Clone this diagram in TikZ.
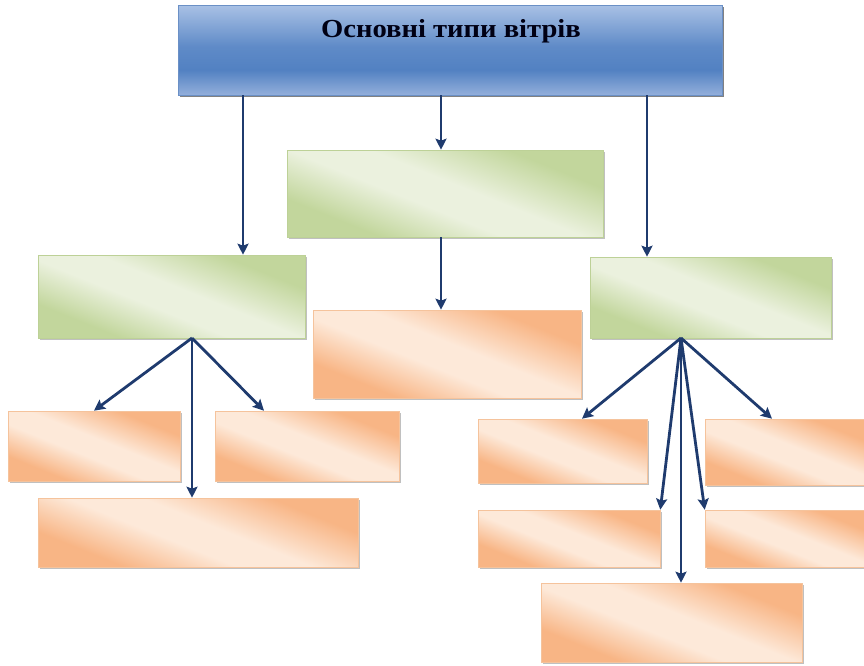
\documentclass[tikz,border=0pt]{standalone}
\usepackage{fontspec}
\setmainfont{Liberation Serif}
\usetikzlibrary{shadows,arrows.meta,calc}

\definecolor{arrowblue}{HTML}{1F3B6E}
\definecolor{ordark}{HTML}{F8B585}
\definecolor{orlight}{HTML}{FDE9D9}
\definecolor{orline}{HTML}{F5C39C}
\definecolor{grdark}{HTML}{C2D69C}
\definecolor{grlight}{HTML}{EBF1DE}
\definecolor{grline}{HTML}{BDD197}
\definecolor{tbtop}{HTML}{A9C1E5}
\definecolor{tbmid}{HTML}{5281C2}
\definecolor{tbbot}{HTML}{93AFDB}
\definecolor{tbline}{HTML}{6B90C6}

% title bar: light at the top, deepest a little below the middle, lighter again at the bottom
\pgfdeclareverticalshading{titleshade}{100bp}{%
  color(0bp)=(tbbot); color(25bp)=(tbbot); color(39bp)=(tbmid);
  color(52bp)=(tbmid!85!tbtop); color(75bp)=(tbtop); color(100bp)=(tbtop)}

% soft diagonal sheen: dark edges, light band through the middle
\pgfdeclareverticalshading{orsheen}{100bp}{%
  color(0bp)=(ordark); color(29bp)=(ordark); color(44bp)=(orlight);
  color(54bp)=(orlight); color(71bp)=(ordark); color(100bp)=(ordark)}
\pgfdeclareverticalshading{grsheen}{100bp}{%
  color(0bp)=(grdark); color(29bp)=(grdark); color(44bp)=(grlight);
  color(54bp)=(grlight); color(71bp)=(grdark); color(100bp)=(grdark)}

\tikzset{
  boxbase/.style={rectangle, inner sep=0pt, line width=0.6pt,
    drop shadow={shadow xshift=1.6pt, shadow yshift=-2.2pt, opacity=0.45, fill=black!55}},
  orangebox/.style={boxbase, draw=orline, shading=orsheen, shading angle=-22},
  greenbox/.style={boxbase, draw=grline, shading=grsheen, shading angle=-22},
  titlebox/.style={rectangle, inner sep=0pt, line width=0.6pt, draw=tbline, shading=titleshade,
    drop shadow={shadow xshift=1.6pt, shadow yshift=-2.4pt, opacity=0.7, fill=black!70}},
  titletext/.style={font=\fontsize{26}{30}\selectfont\bfseries\addfontfeature{FakeStretch=1.1},
    text=black!92!blue},
  arr/.style={draw=arrowblue, line width=2.8pt, -{Stealth[length=11pt, width=11pt, inset=2pt]}}
}

\begin{document}
\begin{tikzpicture}[x=1pt, y=-1pt]
\useasboundingbox (0,0) rectangle (864,665);

% title
\node[titlebox, minimum width=544pt, minimum height=90pt] (title) at (450,50) {};
\node[titletext] (ttext) at ($(title.north)+(1,27)$) {Основні типи вітрів};

% second level
\node[greenbox, minimum width=316pt, minimum height=87pt] (gc) at (445,193.5) {};
\node[greenbox, minimum width=267pt, minimum height=83pt] (gl) at (171.5,296.5) {};
\node[greenbox, minimum width=241pt, minimum height=81pt] (gr) at (710.5,297.5) {};

% third level
\node[orangebox, minimum width=268pt, minimum height=88pt] (oc) at (447,354) {};
\node[orangebox, minimum width=172pt, minimum height=70pt] (ol1) at (94,446) {};
\node[orangebox, minimum width=184pt, minimum height=70pt] (ol2) at (307,446) {};
\node[orangebox, minimum width=320pt, minimum height=69pt] (ol3) at (198,532.5) {};
\node[orangebox, minimum width=169pt, minimum height=64pt] (or1) at (562.5,451) {};
\node[orangebox, minimum width=165pt, minimum height=66pt] (or2) at (787.5,452) {};
\node[orangebox, minimum width=182pt, minimum height=57pt] (or3) at (569,538.5) {};
\node[orangebox, minimum width=165pt, minimum height=57pt] (or4) at (787.5,538.5) {};
\node[orangebox, minimum width=261pt, minimum height=79pt] (or5) at (671.5,622.5) {};

% guide points for the connectors
\coordinate (xl) at (243,0);
\coordinate (xc) at (441,0);
\coordinate (xr) at (647,0);
\coordinate (fl) at (192,338);
\coordinate (fr) at (681,338);
\coordinate (ol2in) at (264,0);
\coordinate (or1in) at (582,0);
\coordinate (or2in) at (772,0);

% connectors from the title
\draw[arr] (title.south -| xl) -- (gl.north -| xl);
\draw[arr] (title.south -| xc) -- (gc.north -| xc);
\draw[arr] (title.south -| xr) -- (gr.north -| xr);
\draw[arr] (gc.south -| xc) -- (oc.north -| xc);

% left fan
\draw[arr] (fl) -- (ol1.north);
\draw[arr] (fl) -- (ol2.north -| ol2in);
\draw[arr] (fl) -- (ol3.north -| fl);

% right fan
\draw[arr] (fr) -- (or1.north -| or1in);
\draw[arr] (fr) -- (or2.north -| or2in);
\draw[arr] (fr) -- (or3.north east);
\draw[arr] (fr) -- (or4.north west);
\draw[arr] (fr) -- (or5.north -| fr);
\end{tikzpicture}
\end{document}
